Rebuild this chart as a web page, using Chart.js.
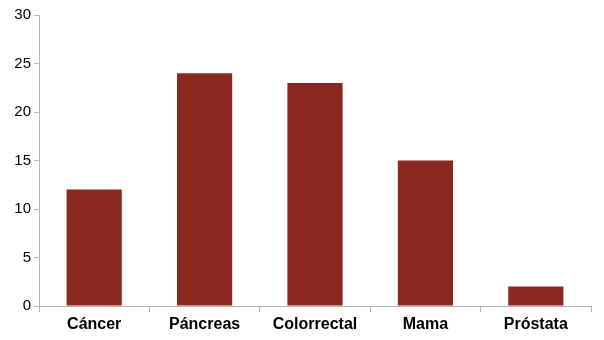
<!DOCTYPE html>
<html><head><meta charset="utf-8">
<script src="https://cdn.jsdelivr.net/npm/chart.js@4"></script>
<style>html,body{margin:0;padding:0;background:#fff}#w{width:604px;height:340px}</style>
</head><body><div id="w"><canvas id="c"></canvas></div>
<script>
const categories = ["Cáncer", "Páncreas", "Colorrectal", "Mama", "Próstata"];
const values = [12, 24, 23, 15, 2];
const yTicks = [0, 5, 10, 15, 20, 25, 30];

new Chart(document.getElementById('c'), {
  type: 'bar',
  data: { labels: categories, datasets: [{ data: values, backgroundColor: '#8b2920', borderWidth: 0, categoryPercentage: 1, barPercentage: 0.5 }] },
  options: {
    responsive: true, maintainAspectRatio: false, animation: false,
    layout: { padding: { top: 15, right: 13, left: 0, bottom: 0 } },
    plugins: { legend: { display: false }, tooltip: { enabled: false } },
    scales: {
      x: {
        grid: { display: true, drawOnChartArea: false, drawTicks: true, tickLength: 6, color: '#b3b3b3', offset: true },
        border: { color: '#b3b3b3' },
        ticks: { color: '#000', font: { family: 'Liberation Sans', size: 16, weight: 'bold' }, padding: 3 },
        afterFit: s => { s.height = 34; }
      },
      y: {
        min: 0, max: 30,
        afterBuildTicks: s => { s.ticks = yTicks.map(v => ({ value: v })); },
        grid: { display: true, drawOnChartArea: false, drawTicks: true, tickLength: 5, color: '#b3b3b3' },
        border: { color: '#b3b3b3' },
        ticks: { color: '#000', font: { family: 'Liberation Sans', size: 15 }, padding: 3 },
        afterFit: s => { s.width = 39; }
      }
    }
  }
});
</script></body></html>
